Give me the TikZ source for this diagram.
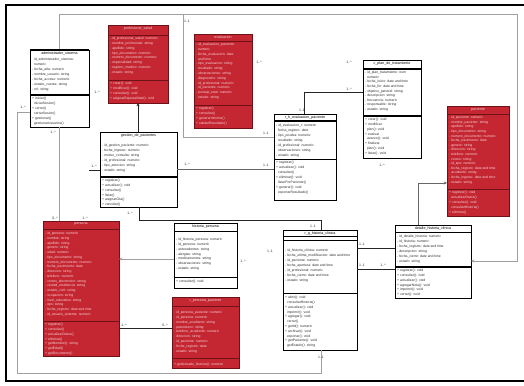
\documentclass[tikz,border=0pt]{standalone}
\usepackage{fontspec}
\setmainfont{Liberation Sans}
\usetikzlibrary{arrows.meta}

\definecolor{umlred}{RGB}{196,38,50}
\definecolor{umlredline}{RGB}{110,18,24}
\definecolor{umlredtext}{RGB}{246,214,214}
\definecolor{linkgray}{RGB}{160,160,160}
\definecolor{membertext}{RGB}{45,45,45}

\tikzset{
  x=1pt, y=-1pt,
  redclass/.style={draw=umlredline, fill=umlred, line width=0.6pt, inner sep=0, outer sep=0, anchor=north west},
  whiteclass/.style={draw=black, fill=white, line width=0.6pt, inner sep=0, outer sep=0, anchor=north west},
  redclassname/.style={text=umlredtext},
  whiteclassname/.style={text=black},
  cname/.style={font=\fontsize{3.6}{4.4}\selectfont, inner sep=0, anchor=north},
  members/.style={font=\fontsize{3.4}{4.8}\selectfont, inner sep=0, anchor=north west, align=left, text=membertext},
  redmembers/.style={members, text=umlredtext},
  redrule/.style={draw=umlredline, line width=0.5pt},
  thinrule/.style={draw=black, line width=0.5pt},
  thickrule/.style={draw=black, line width=1.1pt},
  link/.style={draw=black!85, line width=0.7pt},
  darklink/.style={draw=black!60, line width=0.8pt},
  farlink/.style={draw=linkgray, line width=0.8pt},
  tip/.style={-{Stealth[length=3.2pt,width=3pt]}},
  mult/.style={font=\fontsize{3.5}{4}\selectfont, inner sep=0, text=black!80},
}

% class frame with its centred title: id, style, x1, y1, x2, y2, title
\newcommand{\umlclass}[7]{%
  \node[#2, minimum width={(#5-#3)*1pt}, minimum height={(#6-#4)*1pt}] (#1) at (#3,#4) {};
  \node[cname, #2name] (#1-n) at ([yshift=-1.4pt]#1.north) {#7};
}
% horizontal compartment rule across a class: [style] id, y
\newcommand{\classrule}[3][thinrule]{\draw[#1] (#2.west |- 0,#3) -- (#2.east |- 0,#3);}

\begin{document}
\begin{tikzpicture}
\useasboundingbox (0,0) rectangle (524,385);
\fill[white] (0,0) rectangle (524,385);

% outer window frame
\draw[line width=1.6pt, black] (524,5) -- (6,5) -- (6,381) -- (524,381);

% ---------- class frames (drawn first so the anchors exist) ----------
\umlclass{adm}{whiteclass}{30}{50}{89}{127}{administrador\_sistema}
\umlclass{prof}{redclass}{108}{25}{168}{103}{profesional\_salud}
\umlclass{eval}{redclass}{194}{34}{252}{128}{evaluacion}
\umlclass{gest}{whiteclass}{100}{132}{177}{207}{gestion\_de\_pacientes}
\umlclass{rhe}{whiteclass}{274}{114}{336}{200}{r\_h\_evaluacion\_paciente}
\umlclass{cplan}{whiteclass}{363}{60}{421}{158}{c\_plan\_de\_tratamiento}
\umlclass{pac}{redclass}{447}{106}{509}{216}{paciente}
\umlclass{det}{whiteclass}{395}{225}{471}{298}{detalle\_historia\_clinica}
\umlclass{mid}{whiteclass}{283}{230}{357}{350}{r\_g\_historia\_clinica}
\umlclass{hist}{whiteclass}{174}{223}{237}{288}{historia\_persona}
\umlclass{rpp}{redclass}{172}{297}{239}{368}{r\_persona\_paciente}
\umlclass{usr}{redclass}{43}{221}{119}{356}{persona}

% ---------- connectors ----------
\coordinate (junction) at (183,14);
\coordinate (stub) at (89,170);

\draw[farlink, tip] (adm.north -| 59,0) -- (59,14) -- (517,14) -- (517,261) -- (det.east |- 0,261);
\draw[farlink] (junction) -- (183,137) -- (rhe.west |- 0,137);
\draw[farlink] (adm.west |- 0,112) -- (17,112) -- (17,373) -- (321,373) -- (mid.south -| 321,0);
\draw[farlink] (adm.south -| 59,0) -- (usr.north -| 59,0);
\draw[link, tip] (gest.north -| 138,0) -- (prof.south -| 138,0);
\draw[darklink] (gest.east |- 0,169) -- (rhe.west |- 0,169);
\draw[link] (gest.south -| 139,0) -- (139,220) -- (321,220) -- (mid.north -| 321,0);
\draw[link] (stub) -- (gest.west |- 0,170);
\draw[farlink, tip] (hist.west |- 0,259) -- (usr.east |- 0,259);
\draw[link] (usr.east |- 0,328) -- (rpp.west |- 0,328);
\draw[link] (rhe.north -| 304,0) -- (304,92) -- (cplan.west |- 0,92);
\draw[link] (mid.east |- 0,248) -- (det.west |- 0,248);
\draw[link] (mid.east |- 0,269) -- (det.west |- 0,269);
\draw[darklink, tip] (det.north -| 418,0) -- (418,183) -- (pac.west |- 0,183);

% ---------- compartments and members ----------
% administrador_sistema
\draw[thickrule] (adm.north west) -- (adm.north east);
\classrule[thickrule]{adm}{95}
\node[members, font=\fontsize{3.4}{5}\selectfont] (adm-a) at (32,58) {%
 \ \ id\_administrador\_sistema:\\ \ \ numeric\\- fecha\_alta: numeric\\- nombre\_usuario: string\\- fecha\_acceso: numeric\\- estado\_cuenta: string\\- rol: string};
\node[members, font=\fontsize{3.4}{5}\selectfont] (adm-m) at (32,97) {%
+ iniciar()\\ \ \ iniciarSesion()\\+ cerrar()\\ \ \ cerrarSesion()\\+ gestionar()\\ \ \ gestionarUsuarios()};

% profesional_salud
\classrule[redrule]{prof}{35}
\classrule[redrule]{prof}{80}
\node[redmembers] (prof-a) at (110,37) {%
- id\_profesional\_salud: numeric\\- nombre\_profesional: string\\- apellido: string\\- tipo\_documento: numeric\\- numero\_documento: numeric\\- especialidad: string\\- registro\_medico: numeric\\- estado: string};
\node[redmembers] (prof-m) at (110,82) {%
+ crear(): void\\+ modificar(): void\\+ consultar(): void\\+ asignarEspecialidad(): void};

% evaluacion
\classrule[redrule]{eval}{41}
\classrule[redrule]{eval}{105}
\node[redmembers] (eval-a) at (196,43) {%
- id\_evaluacion\_paciente:\\ \ \ numeric\\- fecha\_evaluacion: date\\ \ \ and time\\- tipo\_evaluacion: string\\ \ \ resultado: string\\- observaciones: string\\ \ \ diagnostico: string\\- id\_profesional: numeric\\ \ \ id\_paciente: numeric\\- puntaje\_total: numeric\\ \ \ estado: string};
\node[redmembers] (eval-m) at (196,107) {%
+ registrar()\\+ consultar()\\+ generarInforme()\\+ validarResultado()};

% gestion_de_pacientes
\classrule[thickrule]{gest}{177}
\node[members, font=\fontsize{3.4}{5}\selectfont] (gest-a) at (102,144) {%
- id\_gestion\_paciente: numeric\\- fecha\_ingreso: numeric\\- motivo\_consulta: string\\- id\_profesional: numeric\\- tipo\_atencion: string\\- estado: string};
\node[members] (gest-m) at (102,179) {%
+ registrar()\\+ actualizar(): void\\+ consultar()\\+ listar()\\+ asignarCita()\\+ cancelar()};

% r_h_evaluacion_paciente
\classrule[thickrule]{rhe}{121}
\classrule{rhe}{159}
\node[members, font=\fontsize{3.4}{5}\selectfont] (rhe-a) at (276,124) {%
- id\_evaluacion\_r: numeric\\ \ \ fecha\_registro: date\\- tipo\_prueba: numeric\\ \ \ resultado: string\\- id\_profesional: numeric\\ \ \ observaciones: string\\- estado: string};
\node[members, font=\fontsize{3.4}{5}\selectfont] (rhe-m) at (276,161) {%
+ registrar()\\+ actualizar(): void\\ \ \ consultar()\\+ eliminar(): void\\ \ \ listarPorPaciente()\\+ generar(): void\\ \ \ exportarResultado()};

% c_plan_de_tratamiento
\classrule[thickrule]{cplan}{69}
\classrule[thickrule]{cplan}{116}
\node[members, font=\fontsize{3.4}{4.6}\selectfont] (cplan-a) at (365,71) {%
- id\_plan\_tratamiento: num\\ \ \ numeric\\- fecha\_inicio: date and time\\- fecha\_fin: date and time\\- objetivo\_general: string\\- descripcion: string\\- frecuencia: numeric\\- responsable: string\\- estado: string};
\node[members] (cplan-m) at (365,118) {%
+ crear(): void\\+ modificar\\ \ \ plan(): void\\+ evaluar\\ \ \ avance(): void\\+ finalizar\\ \ \ plan(): void\\+ listar(): void};

% paciente
\classrule[redrule]{pac}{114}
\classrule[redrule]{pac}{189}
\node[redmembers, font=\fontsize{3.4}{4.6}\selectfont] (pac-a) at (449,116) {%
- id\_paciente: numeric\\- nombre\_paciente: string\\- apellido: string\\- tipo\_documento: string\\- numero\_documento: numeric\\- fecha\_nacimiento: date\\- genero: string\\- direccion: string\\- telefono: numeric\\- correo: string\\- id\_eps: numeric\\- fecha\_registro: date and time\\- acudiente: string\\- fecha\_ingreso: date and time\\- estado: string};
\node[redmembers, font=\fontsize{3.4}{5}\selectfont] (pac-m) at (449,191) {%
+ registrar(): void\\ \ \ actualizarDatos()\\+ consultar(): void\\ \ \ consultarHistoria()\\+ eliminar()};

% detalle_historia_clinica
\classrule{det}{232}
\classrule[thickrule]{det}{267}
\node[members, font=\fontsize{3.4}{5}\selectfont] (det-a) at (397,235) {%
- id\_detalle\_historia: numeric\\- id\_historia: numeric\\- fecha\_registro: date and time\\- descripcion: string\\- fecha\_cierre: date and time\\- estado: string};
\node[members] (det-m) at (397,269) {%
+ registrar(): void\\+ consultar(): void\\+ actualizar(): void\\+ agregarNota(): void\\+ imprimir(): void\\+ cerrar(): void};

% r_g_historia_clinica
\classrule{mid}{236}
\classrule{mid}{240}
\classrule{mid}{293}
\node[members, font=\fontsize{3.4}{5}\selectfont] (mid-a) at (285,249) {%
- id\_historia\_clinica: numeric\\- fecha\_ultima\_modificacion: date and time\\- id\_paciente: numeric\\- fecha\_apertura: date and time\\- id\_profesional: numeric\\- fecha\_cierre: date and time\\- estado: string};
\node[members] (mid-m) at (285,296) {%
+ abrir(): void\\ \ \ consultarHistoria()\\+ actualizar(): void\\ \ \ imprimir(): void\\+ agregar(): void\\ \ \ cerrar()\\+ getId(): numeric\\+ archivar(): void\\ \ \ exportar(): void\\+ getPaciente(): void\\ \ \ getEstado(): string};

% historia_persona
\classrule{hist}{231}
\classrule{hist}{277}
\node[members] (hist-a) at (176,238) {%
- id\_historia\_persona: numeric\\- id\_persona: numeric\\- antecedentes: string\\- alergias: string\\- medicamentos: string\\- observaciones: string\\- estado: string};
\node[members] (hist-m) at (176,280) {+ consultar(): void};

% r_persona_paciente
\classrule[redrule]{rpp}{306}
\classrule[redrule]{rpp}{358}
\node[redmembers] (rpp-a) at (174,311) {%
- id\_persona\_paciente: numeric\\- id\_persona: numeric\\- nombre\_acudiente: string\\- parentesco: string\\- telefono\_acudiente: numeric\\- direccion: string\\- id\_paciente: numeric\\- fecha\_registro: date\\- estado: string};
\node[redmembers] (rpp-m) at (174,363) {+ getLlenado\_historia(): numeric};

% persona
\classrule[redrule]{usr}{229}
\classrule[redrule]{usr}{321}
\node[redmembers, font=\fontsize{3.4}{4.75}\selectfont] (usr-a) at (45,232) {%
- id\_persona: numeric\\- nombre: string\\- apellido: string\\- genero: string\\- edad: numeric\\- tipo\_documento: string\\- numero\_documento: numeric\\- fecha\_nacimiento: date\\- direccion: string\\- telefono: numeric\\- correo\_electronico: string\\- ciudad\_residencia: string\\- estado\_civil: string\\- ocupacion: string\\- nivel\_educativo: string\\- eps: string\\- fecha\_registro: date and time\\- id\_usuario\_sistema: numeric};
\node[redmembers] (usr-m) at (45,323) {%
+ registrar()\\+ consultar()\\+ actualizarDatos()\\+ eliminar()\\+ getNombre(): string\\+ getEdad()\\+ getDocumento()};

% ---------- multiplicities ----------
\node[mult] (m1) at (97,92) {1..*};
\node[mult] (m2) at (53,132) {1..*};
\node[mult] (m3) at (23,107) {1..*};
\node[mult] (m4) at (94,166) {1..*};
\node[mult] (m5) at (187,164) {1..*};
\node[mult] (m6) at (266,165) {1..1};
\node[mult] (m7) at (266,133) {1..1};
\node[mult] (m8) at (130,213) {1..*};
\node[mult] (m9) at (313,226) {1..1};
\node[mult] (m10) at (55,218) {0..*};
\node[mult] (m11) at (85,218) {1..*};
\node[mult] (m12) at (270,251) {1..1};
\node[mult] (m13) at (243,261) {1..*};
\node[mult] (m14) at (124,325) {1..*};
\node[mult] (m15) at (165,325) {0..*};
\node[mult] (m16) at (362,244) {1..1};
\node[mult] (m17) at (362,265) {1..1};
\node[mult] (m18) at (383,265) {1..*};
\node[mult] (m19) at (321,357) {1..1};
\node[mult] (m20) at (259,62) {1..*};
\node[mult] (m21) at (349,62) {1..*};
\node[mult] (m22) at (349,89) {1..*};
\node[mult] (m23) at (302,110) {1..1};
\node[mult] (m24) at (382,165) {1..*};
\node[mult] (m25) at (187,21) {1..1};
\end{tikzpicture}
\end{document}
